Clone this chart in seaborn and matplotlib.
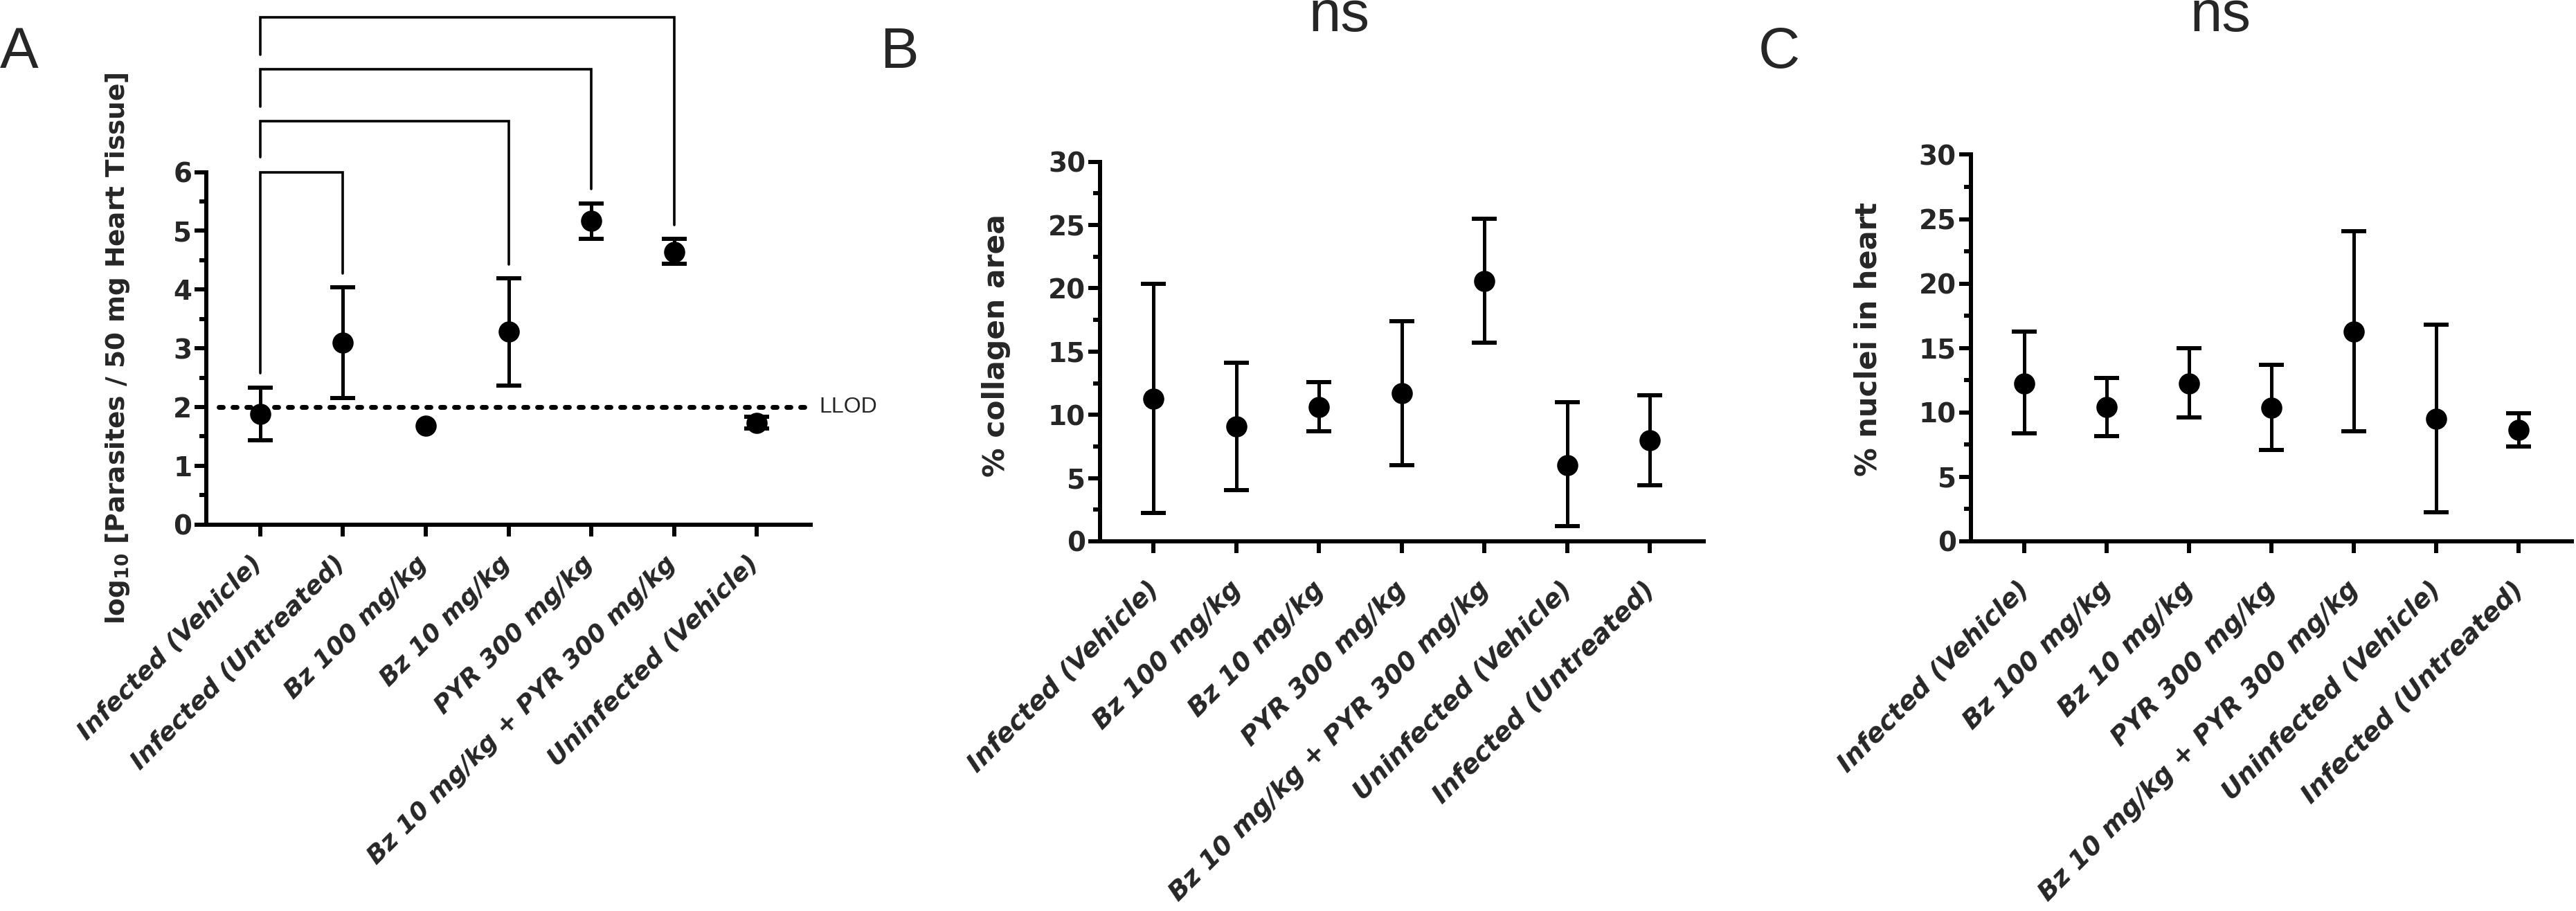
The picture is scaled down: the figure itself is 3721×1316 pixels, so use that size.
import numpy as np
import pandas as pd
import matplotlib.pyplot as plt
import matplotlib.transforms as mtransforms
import seaborn as sns
from matplotlib.ticker import MultipleLocator

# Prism-like style: heavy bold axis text, plain Arial-like panel letters
sns.set_theme(style="ticks")
plt.rcParams.update({
    "font.family": ["DejaVu Sans"],
    "font.weight": "bold",
    "mathtext.fontset": "dejavusans",
    "axes.linewidth": 4.3,
    "axes.edgecolor": "black",
})
PLAIN = ["Liberation Sans", "DejaVu Sans"]

# Panel A: parasite load
groups_a = ["Infected (Vehicle)", "Infected (Untreated)", "Bz 100 mg/kg", "Bz 10 mg/kg",
            "PYR 300 mg/kg", "Bz 10 mg/kg + PYR 300 mg/kg", "Uninfected (Vehicle)"]
mean_a = [1.88, 3.10, 1.68, 3.28, 5.17, 4.64, 1.73]
upper_a = [2.33, 4.04, np.nan, 4.19, 5.47, 4.86, 1.83]
lower_a = [1.44, 2.15, np.nan, 2.37, 4.86, 4.44, 1.64]

# Panels B and C
groups_bc = ["Infected (Vehicle)", "Bz 100 mg/kg", "Bz 10 mg/kg", "PYR 300 mg/kg",
             "Bz 10 mg/kg + PYR 300 mg/kg", "Uninfected (Vehicle)", "Infected (Untreated)"]
mean_b = [11.25, 9.07, 10.63, 11.72, 20.6, 6.0, 7.98]
upper_b = [20.37, 14.12, 12.59, 17.39, 25.48, 11.02, 11.53]
lower_b = [2.23, 4.07, 8.68, 6.0, 15.71, 1.2, 4.41]

mean_c = [12.27, 10.44, 12.22, 10.36, 16.25, 9.48, 8.63]
upper_c = [16.25, 12.68, 15.01, 13.70, 24.05, 16.79, 9.95]
lower_c = [8.36, 8.16, 9.59, 7.07, 8.52, 2.27, 7.34]

# significance brackets in panel A (pairs of group indices, bracket heights)
bracket_pairs = [(0, 1), (0, 3), (0, 4), (0, 5)]
bracket_tops = [6.0, 6.87, 7.75, 8.64]
llod = 2.0


def draw_panel(ax, groups, mean, lower, upper, ymax, major, minor, ylabel, label_size,
               xt_size, xt_pad, xt_shift):
    df = pd.DataFrame({"group": groups, "mean": mean, "lower": lower, "upper": upper})
    x = np.arange(len(groups))
    ax.errorbar(x, df["mean"], yerr=[df["mean"] - df["lower"], df["upper"] - df["mean"]],
                fmt="none", ecolor="black", elinewidth=3.6, capsize=13, capthick=4.3, zorder=2)
    sns.pointplot(data=df, x="group", y="mean", order=groups, linestyle="none",
                  marker="o", markersize=22, markeredgewidth=0, color="black",
                  errorbar=None, ax=ax, zorder=3)
    ax.set_xlim(-0.65, len(groups) - 0.35)
    ax.set_ylim(0, ymax)
    ax.yaxis.set_major_locator(MultipleLocator(major))
    ax.yaxis.set_minor_locator(MultipleLocator(minor))
    ax.set_xticks(x)
    ax.set_xticklabels(groups, rotation=45, ha="right", va="top", rotation_mode="anchor",
                       fontstyle="italic", fontweight="bold", fontsize=xt_size)
    ax.tick_params(axis="both", which="major", length=12, width=4.3, pad=3, color="black")
    ax.tick_params(axis="y", labelsize=28)
    ax.tick_params(axis="x", pad=xt_pad)
    ax.tick_params(axis="y", which="minor", length=7, width=4.3, color="black")
    # nudge rotated labels left so their ends sit over the ticks
    shift = mtransforms.ScaledTranslation(xt_shift / 72, 0, ax.figure.dpi_scale_trans)
    for lbl in ax.get_xticklabels():
        lbl.set_transform(lbl.get_transform() + shift)
    for lbl in ax.get_yticklabels():
        lbl.set_fontweight("bold")
    ax.set_xlabel("")
    ax.set_ylabel(ylabel, fontsize=label_size, fontweight="bold", va="center")
    sns.despine(ax=ax)


fig = plt.figure(figsize=(37.21, 13.16), dpi=100)
ax_a = fig.add_axes([0.0801, 0.4242, 0.2346, 0.3869])
ax_b = fig.add_axes([0.4270, 0.4058, 0.2343, 0.4166])
ax_c = fig.add_axes([0.7650, 0.4058, 0.2334, 0.4244])

draw_panel(ax_a, groups_a, mean_a, lower_a, upper_a, 6, 1, 0.5,
           r"log$_{\mathbf{10}}$ [Parasites / 50 mg Heart Tissue]", 27, 26, 16, -10.5)
ax_a.yaxis.set_label_coords(-0.147, 0.5)

draw_panel(ax_b, groups_bc, mean_b, lower_b, upper_b, 30, 5, 2.5, "% collagen area", 30.5,
           27, 25, -8)
ax_b.yaxis.set_label_coords(-0.172, 0.516)

draw_panel(ax_c, groups_bc, mean_c, lower_c, upper_c, 30, 5, 2.5, "% nuclei in heart", 30,
           27, 25, -8)
ax_c.yaxis.set_label_coords(-0.171, 0.523)

# LLOD dotted line
ax_a.axhline(llod, xmin=0.02, xmax=0.998, color="black", lw=5,
             linestyle=(0, (0.86, 2.02)), dash_capstyle="round", zorder=1)
ax_a.text(6.75, llod, "LLOD", fontsize=23, fontweight="normal", family=PLAIN,
          va="center", ha="left")

# brackets above panel A
for i, (a, b) in enumerate(bracket_pairs):
    top = bracket_tops[i]
    left_bottom = bracket_tops[i - 1] + 0.25 if i > 0 else upper_a[a] + 0.25
    right_bottom = upper_a[b] + 0.24
    ax_a.plot([a, a, b, b], [left_bottom, top, top, right_bottom], color="black",
              lw=2.6, clip_on=False, solid_joinstyle="miter", zorder=2)

# panel letters and ns labels
for x, letter in [(0.0, "A"), (0.3416, "B"), (0.6826, "C")]:
    fig.text(x, 0.9255, letter, fontsize=60, fontweight="normal", family=PLAIN,
             va="baseline", ha="left")
for x in [0.5198, 0.8619]:
    fig.text(x, 0.9658, "ns", fontsize=60, fontweight="normal", family=PLAIN,
             va="baseline", ha="center")

fig.savefig("out.png", dpi=100)
